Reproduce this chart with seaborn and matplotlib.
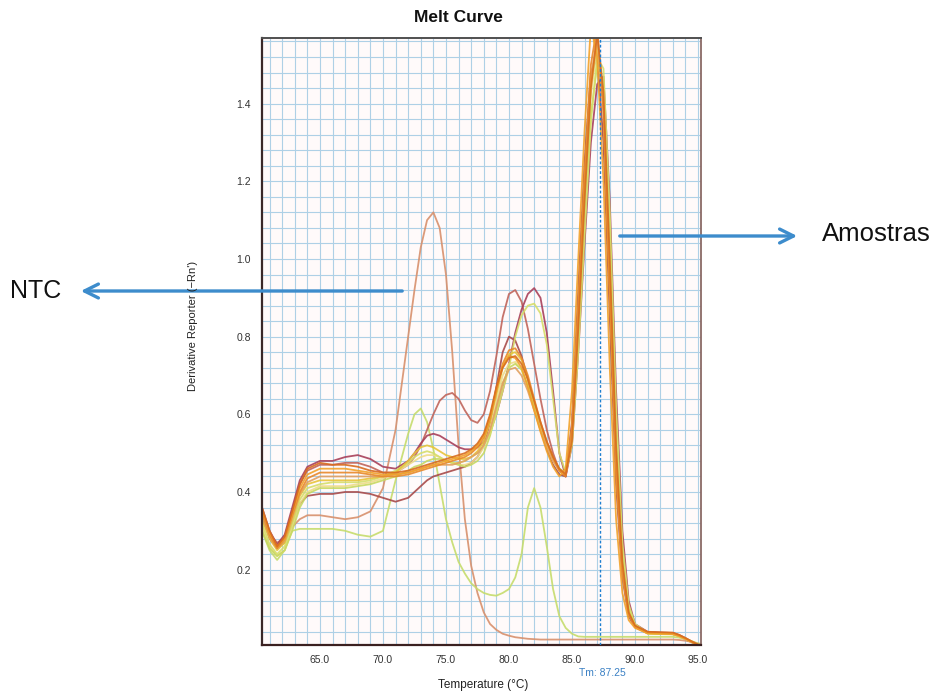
import matplotlib
matplotlib.use("Agg")
import matplotlib.pyplot as plt
import numpy as np
import pandas as pd
import seaborn as sns
from matplotlib.ticker import MultipleLocator, FormatStrFormatter

temperature = [60.4, 61.0, 61.6, 62.2, 62.8, 63.4, 64.0,
               65.0, 66.0, 67.0, 68.0, 69.0, 70.0, 71.0, 72.0,
               72.5, 73.0, 73.5, 74.0, 74.5, 75.0, 75.5, 76.0, 76.5, 77.0, 77.5,
               78.0, 78.5, 79.0, 79.5, 80.0, 80.5, 81.0, 81.5, 82.0, 82.5, 83.0, 83.5,
               84.0, 84.5, 85.0, 85.5, 86.0, 86.5, 87.0, 87.5, 88.0, 88.5, 89.0, 89.5,
               90.0, 91.0, 92.0, 93.0, 93.5, 94.0, 94.5, 95.0, 95.2]

ntc = [0.33, 0.29, 0.27, 0.28, 0.31, 0.33, 0.34,
       0.34, 0.335, 0.33, 0.335, 0.35, 0.41, 0.56, 0.80,
       0.92, 1.03, 1.10, 1.12, 1.08, 0.96, 0.76, 0.52, 0.33, 0.21, 0.14,
       0.09, 0.06, 0.045, 0.035, 0.03, 0.026, 0.024, 0.022, 0.021, 0.02, 0.02, 0.02,
       0.02, 0.02, 0.02, 0.02, 0.02, 0.02, 0.02, 0.02, 0.02, 0.02, 0.02, 0.02,
       0.02, 0.02, 0.02, 0.02, 0.019, 0.017, 0.014, 0.01, 0.009]

ntc_green = [0.30, 0.25, 0.225, 0.25, 0.30, 0.305, 0.305,
             0.305, 0.305, 0.30, 0.29, 0.285, 0.30, 0.43, 0.55,
             0.60, 0.615, 0.58, 0.51, 0.42, 0.33, 0.27, 0.22, 0.19, 0.165, 0.15,
             0.14, 0.135, 0.133, 0.14, 0.15, 0.18, 0.24, 0.36, 0.41, 0.36, 0.26, 0.15,
             0.08, 0.05, 0.035, 0.028, 0.027, 0.027, 0.027, 0.027, 0.027, 0.027, 0.027, 0.027,
             0.027, 0.027, 0.027, 0.027, 0.025, 0.021, 0.016, 0.01, 0.008]

sample_a = [0.36, 0.30, 0.265, 0.29, 0.36, 0.43, 0.465,
            0.48, 0.48, 0.49, 0.495, 0.485, 0.465, 0.46, 0.48,
            0.50, 0.525, 0.545, 0.55, 0.545, 0.535, 0.525, 0.515, 0.51, 0.51, 0.515,
            0.53, 0.555, 0.60, 0.66, 0.73, 0.81, 0.87, 0.91, 0.925, 0.90, 0.81, 0.66,
            0.50, 0.44, 0.52, 0.76, 1.04, 1.30, 1.45, 1.47, 1.15, 0.66, 0.30, 0.12,
            0.06, 0.04, 0.038, 0.037, 0.032, 0.024, 0.015, 0.007, 0.005]

sample_b = [0.35, 0.29, 0.26, 0.28, 0.35, 0.42, 0.455,
            0.47, 0.47, 0.475, 0.475, 0.465, 0.45, 0.45, 0.47,
            0.49, 0.52, 0.56, 0.60, 0.635, 0.65, 0.655, 0.64, 0.61, 0.585, 0.578,
            0.60, 0.66, 0.75, 0.85, 0.91, 0.92, 0.89, 0.82, 0.73, 0.64, 0.56, 0.50,
            0.455, 0.44, 0.55, 0.85, 1.18, 1.44, 1.55, 1.40, 0.96, 0.48, 0.20, 0.09,
            0.055, 0.037, 0.036, 0.035, 0.03, 0.022, 0.014, 0.006, 0.005]

sample_c = [0.34, 0.28, 0.255, 0.27, 0.32, 0.37, 0.39,
            0.395, 0.395, 0.40, 0.40, 0.395, 0.385, 0.375, 0.385,
            0.40, 0.415, 0.43, 0.44, 0.445, 0.45, 0.455, 0.46, 0.465, 0.475, 0.49,
            0.52, 0.58, 0.67, 0.76, 0.80, 0.79, 0.75, 0.69, 0.62, 0.56, 0.51, 0.47,
            0.445, 0.44, 0.58, 0.92, 1.25, 1.48, 1.52, 1.30, 0.85, 0.42, 0.18, 0.08,
            0.052, 0.036, 0.035, 0.034, 0.029, 0.021, 0.013, 0.006, 0.005]

sample_d = [0.35, 0.29, 0.255, 0.28, 0.34, 0.40, 0.435,
            0.45, 0.45, 0.45, 0.45, 0.445, 0.44, 0.44, 0.445,
            0.45, 0.455, 0.46, 0.465, 0.47, 0.475, 0.48, 0.485, 0.49, 0.50, 0.515,
            0.54, 0.59, 0.66, 0.73, 0.765, 0.77, 0.745, 0.70, 0.64, 0.58, 0.53, 0.49,
            0.455, 0.44, 0.57, 0.88, 1.22, 1.50, 1.60, 1.38, 0.90, 0.45, 0.19, 0.085,
            0.055, 0.038, 0.037, 0.036, 0.031, 0.023, 0.015, 0.007, 0.005]

sample_e = [0.36, 0.30, 0.26, 0.285, 0.35, 0.42, 0.46,
            0.475, 0.47, 0.47, 0.465, 0.455, 0.45, 0.45, 0.455,
            0.46, 0.465, 0.47, 0.475, 0.48, 0.485, 0.49, 0.495, 0.50, 0.51, 0.525,
            0.55, 0.60, 0.67, 0.72, 0.745, 0.75, 0.73, 0.69, 0.635, 0.58, 0.53, 0.49,
            0.46, 0.445, 0.53, 0.82, 1.15, 1.44, 1.58, 1.43, 1.00, 0.52, 0.22, 0.09,
            0.056, 0.04, 0.039, 0.038, 0.032, 0.024, 0.015, 0.007, 0.005]

sample_f = [0.33, 0.28, 0.25, 0.27, 0.33, 0.39, 0.42,
            0.43, 0.43, 0.43, 0.43, 0.435, 0.44, 0.45, 0.48,
            0.50, 0.515, 0.52, 0.515, 0.505, 0.495, 0.49, 0.485, 0.485, 0.49, 0.505,
            0.53, 0.58, 0.65, 0.72, 0.755, 0.76, 0.74, 0.69, 0.63, 0.575, 0.525, 0.485,
            0.455, 0.445, 0.55, 0.85, 1.18, 1.45, 1.56, 1.40, 0.95, 0.50, 0.21, 0.09,
            0.056, 0.036, 0.035, 0.034, 0.029, 0.022, 0.014, 0.006, 0.005]

sample_g = [0.32, 0.265, 0.24, 0.26, 0.32, 0.38, 0.41,
            0.42, 0.425, 0.425, 0.425, 0.43, 0.44, 0.455, 0.475,
            0.49, 0.50, 0.505, 0.50, 0.49, 0.48, 0.475, 0.475, 0.48, 0.49, 0.50,
            0.52, 0.55, 0.60, 0.66, 0.72, 0.80, 0.855, 0.88, 0.885, 0.86, 0.78, 0.64,
            0.50, 0.45, 0.52, 0.76, 1.06, 1.35, 1.52, 1.49, 1.12, 0.62, 0.27, 0.11,
            0.06, 0.038, 0.037, 0.036, 0.031, 0.023, 0.015, 0.007, 0.005]

sample_h = [0.31, 0.26, 0.235, 0.25, 0.31, 0.37, 0.40,
            0.415, 0.415, 0.415, 0.42, 0.425, 0.435, 0.45, 0.47,
            0.48, 0.49, 0.495, 0.495, 0.49, 0.48, 0.475, 0.47, 0.47, 0.475, 0.49,
            0.515, 0.56, 0.63, 0.70, 0.73, 0.735, 0.715, 0.67, 0.615, 0.565, 0.52, 0.48,
            0.455, 0.445, 0.53, 0.82, 1.14, 1.42, 1.55, 1.42, 0.98, 0.50, 0.21, 0.09,
            0.056, 0.035, 0.034, 0.033, 0.028, 0.021, 0.013, 0.006, 0.005]

sample_i = [0.34, 0.285, 0.255, 0.275, 0.335, 0.395, 0.425,
            0.44, 0.44, 0.44, 0.44, 0.44, 0.44, 0.445, 0.45,
            0.455, 0.46, 0.465, 0.47, 0.47, 0.47, 0.47, 0.475, 0.48, 0.49, 0.50,
            0.52, 0.56, 0.62, 0.68, 0.715, 0.72, 0.70, 0.66, 0.61, 0.56, 0.515, 0.48,
            0.455, 0.45, 0.56, 0.87, 1.20, 1.47, 1.57, 1.38, 0.92, 0.46, 0.19, 0.085,
            0.055, 0.037, 0.036, 0.035, 0.03, 0.022, 0.014, 0.006, 0.005]

sample_j = [0.355, 0.295, 0.26, 0.28, 0.345, 0.41, 0.445,
            0.46, 0.46, 0.46, 0.455, 0.45, 0.445, 0.445, 0.45,
            0.455, 0.46, 0.465, 0.47, 0.475, 0.48, 0.485, 0.49, 0.495, 0.505, 0.52,
            0.545, 0.595, 0.665, 0.725, 0.75, 0.745, 0.72, 0.67, 0.61, 0.555, 0.505, 0.465,
            0.44, 0.46, 0.66, 1.00, 1.33, 1.60, 1.52, 1.20, 0.72, 0.33, 0.14, 0.07,
            0.05, 0.036, 0.035, 0.034, 0.029, 0.022, 0.014, 0.006, 0.005]

sample_k = [0.30, 0.255, 0.235, 0.25, 0.30, 0.36, 0.395,
            0.41, 0.41, 0.41, 0.415, 0.42, 0.43, 0.44, 0.455,
            0.465, 0.47, 0.48, 0.485, 0.485, 0.48, 0.475, 0.47, 0.465, 0.47, 0.48,
            0.50, 0.545, 0.61, 0.68, 0.72, 0.73, 0.715, 0.675, 0.62, 0.57, 0.525, 0.485,
            0.46, 0.45, 0.53, 0.80, 1.10, 1.37, 1.50, 1.45, 1.06, 0.57, 0.24, 0.10,
            0.058, 0.036, 0.035, 0.034, 0.029, 0.022, 0.014, 0.006, 0.005]

series = {
    "NTC": ntc, "NTC2": ntc_green,
    "C": sample_c, "B": sample_b, "A": sample_a,
    "H": sample_h, "K": sample_k, "G": sample_g, "F": sample_f,
    "I": sample_i, "D": sample_d, "J": sample_j, "E": sample_e,
}
colors = {
    "NTC": "#d8906c", "NTC2": "#c6dc6c",
    "A": "#a8405a", "B": "#c0645a", "C": "#a84a4a",
    "D": "#e8892a", "E": "#d86c1e", "F": "#e8c43a", "G": "#d6de6a",
    "H": "#eedc88", "I": "#e2a060", "J": "#f2a22a", "K": "#c8d860",
}

for k, v in series.items():
    assert len(v) == len(temperature), (k, len(v))

df = pd.concat([pd.DataFrame({"Temperature": temperature, "Value": v, "curve": k})
                for k, v in series.items()], ignore_index=True)

sns.set_style("white")
plt.rcParams["font.family"] = ["Liberation Sans", "DejaVu Sans"]

W, H = 945, 693
fig = plt.figure(figsize=(W / 100, H / 100), dpi=100)
L, R, T, B = 262, 700.5, 38, 645
ax = fig.add_axes([L / W, 1 - B / H, (R - L) / W, (B - T) / H])
ax.set_facecolor("#fffafa")

ax.set_xlim(60.4, 95.2)
ax.set_ylim(0.006, 1.569)

ax.xaxis.set_major_locator(MultipleLocator(5))
ax.xaxis.set_minor_locator(MultipleLocator(1))
ax.yaxis.set_major_locator(MultipleLocator(0.2))
ax.yaxis.set_minor_locator(MultipleLocator(0.04))
ax.grid(which="both", color="#aed0e6", lw=0.8, zorder=0.5)
ax.set_axisbelow(True)

sns.lineplot(data=df, x="Temperature", y="Value", hue="curve", palette=colors,
             hue_order=list(series.keys()), units="curve", estimator=None,
             sort=False, legend=False, linewidth=1.3, alpha=0.9, ax=ax)

ax.xaxis.set_major_formatter(FormatStrFormatter("%.1f"))
ax.yaxis.set_major_formatter(FormatStrFormatter("%.1f"))
ax.tick_params(which="major", direction="out", length=5, width=0.8, color="#888888",
               labelsize=7.5, labelcolor="#333333", pad=3)
ax.tick_params(which="minor", direction="out", length=4, width=0.6, color="#aaaaaa")
ax.tick_params(axis="x", which="major", pad=2.5)

for side, col, lw in [("left", "#3a2828", 1.6), ("bottom", "#3a2020", 1.6),
                      ("top", "#505050", 1.4), ("right", "#8a6a66", 1.3)]:
    ax.spines[side].set_visible(True)
    ax.spines[side].set_color(col)
    ax.spines[side].set_linewidth(lw)

ax.set_xlabel("")
ax.set_ylabel("")

# Tm line
ax.axvline(87.25, color="#1f7fd0", lw=1.0, ls=(0, (2, 1.5)), zorder=5)
fig.text(602 / W, 1 - 673 / H, "Tm: 87.25", color="#3a80c4", fontsize=7.5,
         ha="center", va="center")

fig.text(458 / W, 1 - 18 / H, "Melt Curve", fontsize=12.5, fontweight="bold",
         ha="center", va="center", color="#111111")
fig.text(483 / W, 1 - 685 / H, "Temperature (°C)", fontsize=8.5,
         ha="center", va="center", color="#222222")
fig.text(193 / W, 1 - 326 / H, "Derivative Reporter (\u2212Rn')", fontsize=8,
         rotation=90, ha="center", va="center", color="#222222")

for x0, x1, y in [(405, 78, 291), (617, 800, 236)]:
    ax.annotate("", xy=(x1 / W, 1 - y / H), xytext=(x0 / W, 1 - y / H),
                xycoords="figure fraction", textcoords="figure fraction",
                arrowprops=dict(arrowstyle="->,head_length=1.0,head_width=0.5",
                                color="#3d8ccc", lw=2.4), annotation_clip=False)
fig.text(36 / W, 1 - 291 / H, "NTC", fontsize=18, ha="center", va="center", color="#111111")
fig.text(876 / W, 1 - 234 / H, "Amostras", fontsize=18.5, ha="center", va="center",
         color="#111111")

fig.savefig("out.png", dpi=100)
